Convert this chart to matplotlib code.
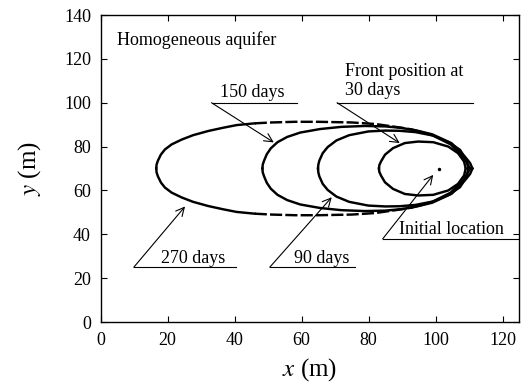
import matplotlib

matplotlib.use("Agg")

import matplotlib.pyplot as plt
import numpy as np

plt.rcParams["font.family"] = ["Liberation Serif", "DejaVu Serif"]
plt.rcParams["mathtext.fontset"] = "stix"

# injection point
source_x = 101.0
source_y = 70.0

# upper half of each front, left tip -> right tip (lower half mirrors about source_y)
front_30_x = [83.1, 83.2, 83.7, 84.9, 87.3, 90.8, 94.8, 99.3, 103.8, 106.7, 108.5, 109.0]
front_30_y = [70.0, 71.5, 73.2, 76.3, 79.3, 81.6, 82.3, 82.0, 80.0, 77.0, 73.2, 70.0]

front_90_x = [64.9, 65.0, 65.3, 66.3, 67.8, 70.4, 74.2, 79.9, 85.0, 89.3, 94.0, 99.3,
              104.0, 107.3, 109.2, 109.8]
front_90_y = [70.0, 71.8, 73.6, 77.0, 79.8, 82.8, 85.2, 86.9, 87.3, 87.2, 86.6, 85.0,
              82.0, 78.5, 74.0, 70.0]

front_150_x = [48.3, 48.4, 48.8, 49.6, 50.8, 52.8, 55.7, 59.6, 65.5, 71.9, 78.9, 85.0,
               90.0, 95.0, 99.0, 104.5, 108.5, 110.3]
front_150_y = [70.0, 71.8, 73.6, 76.5, 79.2, 82.0, 84.4, 86.4, 88.0, 89.0, 89.4, 89.2,
               88.5, 87.0, 85.2, 81.0, 74.9, 70.0]

front_270_x = [16.6, 16.7, 17.1, 18.0, 19.2, 21.2, 24.2, 27.6, 32.1, 36.6, 40.6, 46.0,
               51.0, 58.0, 65.0, 75.0, 82.0, 88.0, 93.0, 99.0, 104.8, 108.7, 110.3, 111.0]
front_270_y = [70.0, 71.8, 73.6, 76.4, 78.7, 81.0, 83.2, 85.2, 87.1, 88.6, 89.8, 90.6,
               91.0, 91.3, 91.3, 91.0, 90.3, 89.0, 87.8, 85.6, 81.5, 75.5, 72.5, 70.0]

x_ticks = [0, 20, 40, 60, 80, 100, 120]
y_ticks = [0, 20, 40, 60, 80, 100, 120, 140]

LW = 1.75
LEADER_LW = 0.8
FS = 13


def draw_front(ax, xs, ys, dash_from=None, dash_to=None):
    xs = np.asarray(xs)
    ys = np.asarray(ys)
    for half in (ys, 2 * source_y - ys):
        if dash_from is None:
            ax.plot(xs, half, color="black", lw=LW, solid_joinstyle="round")
            continue
        i0 = int(np.argmax(xs >= dash_from))
        i1 = int(np.nonzero(xs <= dash_to)[0][-1])
        ax.plot(xs[:i0 + 1], half[:i0 + 1], color="black", lw=LW, solid_joinstyle="round")
        ax.plot(xs[i0:i1 + 1], half[i0:i1 + 1], color="black", lw=LW, ls=(0, (5, 1.3)))
        ax.plot(xs[i1:], half[i1:], color="black", lw=LW, solid_joinstyle="round")


def arrow(ax, start, tip):
    ax.annotate("", xy=tip, xytext=start,
                arrowprops=dict(arrowstyle="->", lw=LEADER_LW, color="black",
                                shrinkA=0, shrinkB=0, mutation_scale=15))


def leader(ax, text, text_xy, line_x, line_y, tip):
    ax.text(*text_xy, text, fontsize=FS, ha="center", va="baseline")
    ax.plot(line_x, [line_y, line_y], color="black", lw=LEADER_LW)
    arrow(ax, (line_x[0], line_y), tip)


fig = plt.figure(figsize=(5.27, 3.85), dpi=100)
ax = fig.add_axes([0.191, 0.1636, 0.7944, 0.7974])

draw_front(ax, front_270_x, front_270_y, dash_from=46.0, dash_to=96.0)
draw_front(ax, front_150_x, front_150_y)
draw_front(ax, front_90_x, front_90_y)
draw_front(ax, front_30_x, front_30_y)
ax.plot([source_x], [source_y], "o", color="black", ms=1.5)

ax.text(5.0, 128.5, "Homogeneous aquifer", fontsize=FS, va="center")

leader(ax, "150 days", (45.3, 102.5), [33.1, 58.5], 100.0, (51.7, 81.9))
ax.text(72.9, 110.0, "Front position at\n30 days", fontsize=FS, va="center",
        linespacing=1.2)
ax.plot([70.6, 111.2], [100.0, 100.0], color="black", lw=LEADER_LW)
arrow(ax, (70.6, 100.0), (89.3, 81.6))
leader(ax, "Initial location", (104.6, 40.0), [84.2, 125.0], 37.9, (99.3, 67.1))
leader(ax, "270 days", (27.6, 27.0), [9.9, 40.4], 25.0, (25.2, 52.7))
leader(ax, "90 days", (65.9, 27.0), [50.5, 75.9], 25.0, (69.0, 56.9))

ax.set_xlim(0, 125)
ax.set_ylim(0, 140)
ax.set_xticks(x_ticks)
ax.set_yticks(y_ticks)
ax.tick_params(direction="in", top=True, right=True, length=4, width=0.8,
               labelsize=FS)
ax.tick_params(axis="x", pad=7)
ax.tick_params(axis="y", pad=7)
for spine in ax.spines.values():
    spine.set_linewidth(1.0)

ax.set_xlabel("$x$ (m)", fontsize=18, labelpad=5)
ax.set_ylabel("$y$ (m)", fontsize=18, labelpad=15)

fig.savefig("out.png", dpi=100)
